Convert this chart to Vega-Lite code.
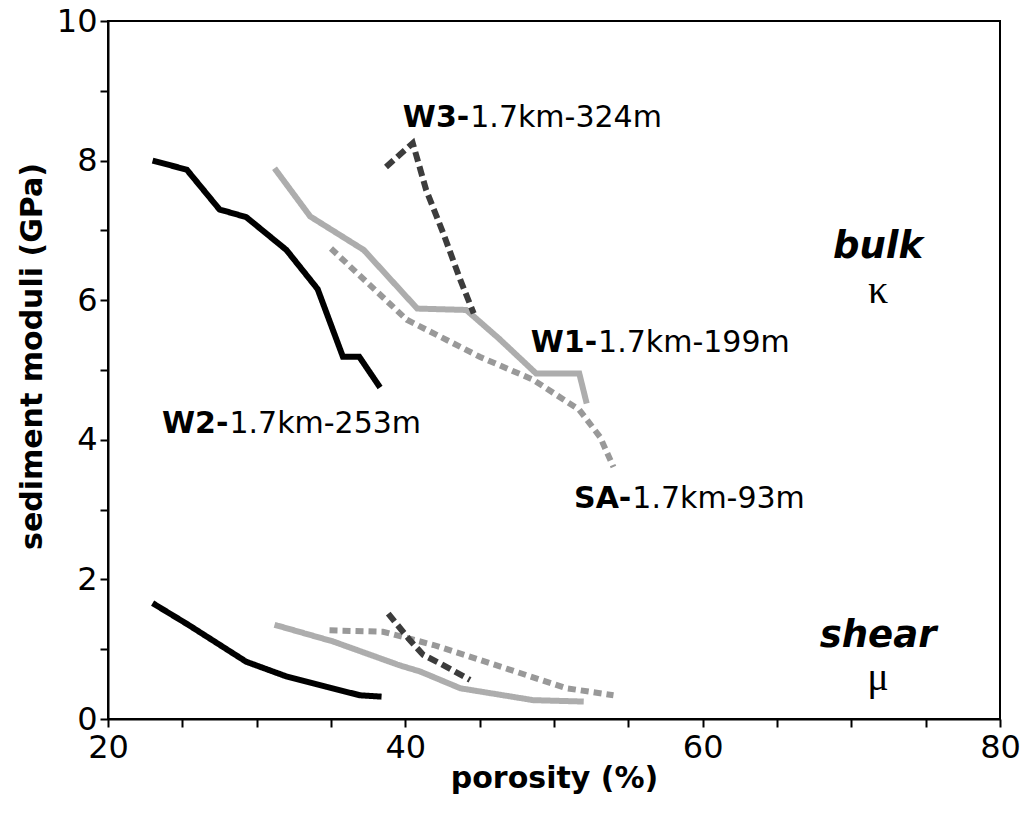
{
  "$schema": "https://vega.github.io/schema/vega-lite/v6.json",
  "width": 892,
  "height": 698,
  "autosize": {"type": "none"},
  "padding": {"left": 108, "top": 21, "right": 23, "bottom": 96},
  "background": "white",
  "config": {
    "view": {"stroke": "black", "strokeWidth": 2},
    "font": "DejaVu Sans"
  },
  "datasets": {
    "curves": [
      {"well": "W2", "modulus": "bulk", "porosity": 23.0, "moduli": 8.0},
      {"well": "W2", "modulus": "bulk", "porosity": 25.3, "moduli": 7.87},
      {"well": "W2", "modulus": "bulk", "porosity": 27.5, "moduli": 7.3},
      {"well": "W2", "modulus": "bulk", "porosity": 29.3, "moduli": 7.19},
      {"well": "W2", "modulus": "bulk", "porosity": 32.0, "moduli": 6.72},
      {"well": "W2", "modulus": "bulk", "porosity": 34.1, "moduli": 6.16},
      {"well": "W2", "modulus": "bulk", "porosity": 35.8, "moduli": 5.19},
      {"well": "W2", "modulus": "bulk", "porosity": 36.9, "moduli": 5.19},
      {"well": "W2", "modulus": "bulk", "porosity": 38.3, "moduli": 4.75},
      {"well": "W1", "modulus": "bulk", "porosity": 31.2, "moduli": 7.89},
      {"well": "W1", "modulus": "bulk", "porosity": 33.6, "moduli": 7.2},
      {"well": "W1", "modulus": "bulk", "porosity": 37.2, "moduli": 6.72},
      {"well": "W1", "modulus": "bulk", "porosity": 40.8, "moduli": 5.88},
      {"well": "W1", "modulus": "bulk", "porosity": 44.1, "moduli": 5.86},
      {"well": "W1", "modulus": "bulk", "porosity": 46.3, "moduli": 5.45},
      {"well": "W1", "modulus": "bulk", "porosity": 48.8, "moduli": 4.95},
      {"well": "W1", "modulus": "bulk", "porosity": 51.7, "moduli": 4.95},
      {"well": "W1", "modulus": "bulk", "porosity": 52.2, "moduli": 4.52},
      {"well": "SA", "modulus": "bulk", "porosity": 35.0, "moduli": 6.74},
      {"well": "SA", "modulus": "bulk", "porosity": 40.1, "moduli": 5.72},
      {"well": "SA", "modulus": "bulk", "porosity": 45.0, "moduli": 5.19},
      {"well": "SA", "modulus": "bulk", "porosity": 48.6, "moduli": 4.86},
      {"well": "SA", "modulus": "bulk", "porosity": 51.7, "moduli": 4.43},
      {"well": "SA", "modulus": "bulk", "porosity": 53.1, "moduli": 4.04},
      {"well": "SA", "modulus": "bulk", "porosity": 54.0, "moduli": 3.61},
      {"well": "W3", "modulus": "bulk", "porosity": 38.7, "moduli": 7.91},
      {"well": "W3", "modulus": "bulk", "porosity": 40.5, "moduli": 8.25},
      {"well": "W3", "modulus": "bulk", "porosity": 41.4, "moduli": 7.58},
      {"well": "W3", "modulus": "bulk", "porosity": 42.55, "moduli": 6.96},
      {"well": "W3", "modulus": "bulk", "porosity": 43.7, "moduli": 6.29},
      {"well": "W3", "modulus": "bulk", "porosity": 44.6, "moduli": 5.81},
      {"well": "W2", "modulus": "shear", "porosity": 23.0, "moduli": 1.66},
      {"well": "W2", "modulus": "shear", "porosity": 25.4, "moduli": 1.35},
      {"well": "W2", "modulus": "shear", "porosity": 29.3, "moduli": 0.82},
      {"well": "W2", "modulus": "shear", "porosity": 32.0, "moduli": 0.61},
      {"well": "W2", "modulus": "shear", "porosity": 34.7, "moduli": 0.46},
      {"well": "W2", "modulus": "shear", "porosity": 36.95, "moduli": 0.34},
      {"well": "W2", "modulus": "shear", "porosity": 38.4, "moduli": 0.32},
      {"well": "W1", "modulus": "shear", "porosity": 31.2, "moduli": 1.35},
      {"well": "W1", "modulus": "shear", "porosity": 35.15, "moduli": 1.11},
      {"well": "W1", "modulus": "shear", "porosity": 39.6, "moduli": 0.77},
      {"well": "W1", "modulus": "shear", "porosity": 41.0, "moduli": 0.68},
      {"well": "W1", "modulus": "shear", "porosity": 43.7, "moduli": 0.44},
      {"well": "W1", "modulus": "shear", "porosity": 48.6, "moduli": 0.27},
      {"well": "W1", "modulus": "shear", "porosity": 52.0, "moduli": 0.25},
      {"well": "SA", "modulus": "shear", "porosity": 34.9, "moduli": 1.27},
      {"well": "SA", "modulus": "shear", "porosity": 38.5, "moduli": 1.25},
      {"well": "SA", "modulus": "shear", "porosity": 41.9, "moduli": 1.06},
      {"well": "SA", "modulus": "shear", "porosity": 46.4, "moduli": 0.75},
      {"well": "SA", "modulus": "shear", "porosity": 50.85, "moduli": 0.44},
      {"well": "SA", "modulus": "shear", "porosity": 54.0, "moduli": 0.34},
      {"well": "W3", "modulus": "shear", "porosity": 38.85, "moduli": 1.51},
      {"well": "W3", "modulus": "shear", "porosity": 40.3, "moduli": 1.13},
      {"well": "W3", "modulus": "shear", "porosity": 41.2, "moduli": 0.92},
      {"well": "W3", "modulus": "shear", "porosity": 42.3, "moduli": 0.8},
      {"well": "W3", "modulus": "shear", "porosity": 44.35, "moduli": 0.56}
    ],
    "wellLabels": [
      {"well": "W3", "porosity": 44.3, "moduli": 8.48, "bold": "W3-", "rest": "1.7km-324m"},
      {"well": "W1", "porosity": 52.9, "moduli": 5.26, "bold": "W1-", "rest": "1.7km-199m"},
      {"well": "W2", "porosity": 28.1, "moduli": 4.1, "bold": "W2-", "rest": "1.7km-253m"},
      {"well": "SA", "porosity": 55.2, "moduli": 3.02, "bold": "SA-", "rest": "1.7km-93m"}
    ],
    "moduliLabels": [
      {"porosity": 71.8, "moduli": 6.6, "name": "bulk", "symbol": "κ", "symbolY": 5.96},
      {"porosity": 71.8, "moduli": 1.03, "name": "shear", "symbol": "μ", "symbolY": 0.42}
    ]
  },
  "layer": [
    {
      "data": {"name": "curves"},
      "mark": {"type": "line", "strokeCap": "butt", "strokeJoin": "miter"},
      "encoding": {
        "x": {
          "field": "porosity", "type": "quantitative",
          "scale": {"domain": [20, 80], "nice": false, "zero": false},
          "axis": {
            "title": "porosity (%)",
            "values": [20, 25, 30, 35, 40, 45, 50, 55, 60, 65, 70, 75, 80],
            "format": "d",
            "labelExpr": "datum.value % 20 === 0 ? datum.label : ''",
            "grid": false,
            "domainColor": "black", "domainWidth": 2,
            "tickColor": "black", "tickWidth": 2, "tickSize": 8,
            "labelFont": "DejaVu Sans", "labelFontSize": 32, "labelColor": "black",
            "labelPadding": 5, "labelOverlap": false, "labelFlush": false, "labelBound": false,
            "titleFont": "DejaVu Sans", "titleFontSize": 30, "titleFontWeight": "bold",
            "titleColor": "black", "titlePadding": 0
          }
        },
        "y": {
          "field": "moduli", "type": "quantitative",
          "scale": {"domain": [0, 10], "nice": false},
          "axis": {
            "title": "sediment moduli (GPa)",
            "values": [0, 1, 2, 3, 4, 5, 6, 7, 8, 9, 10],
            "format": "d",
            "labelExpr": "datum.value % 2 === 0 ? datum.label : ''",
            "grid": false,
            "domainColor": "black", "domainWidth": 2,
            "tickColor": "black", "tickWidth": 2, "tickSize": 8,
            "labelFont": "DejaVu Sans", "labelFontSize": 32, "labelColor": "black",
            "labelPadding": 3, "labelOverlap": false, "labelFlush": false, "labelBound": false,
            "titleFont": "DejaVu Sans", "titleFontSize": 30, "titleFontWeight": "bold",
            "titleColor": "black", "titlePadding": 9, "titleY": 335
          }
        },
        "color": {
          "field": "well", "type": "nominal",
          "scale": {"domain": ["W2", "W1", "SA", "W3"], "range": ["#000000", "#adadad", "#999999", "#3c3c3c"]},
          "legend": null
        },
        "strokeDash": {
          "field": "well", "type": "nominal",
          "scale": {"domain": ["W2", "W1", "SA", "W3"], "range": [[1, 0], [1, 0], [8, 5], [10, 5]]},
          "legend": null
        },
        "strokeWidth": {
          "field": "well", "type": "nominal",
          "scale": {"domain": ["W2", "W1", "SA", "W3"], "range": [6, 6, 5, 6]},
          "legend": null
        },
        "detail": {"field": "modulus", "type": "nominal"}
      }
    },
    {
      "data": {"name": "wellLabels"},
      "mark": {"type": "text", "align": "right", "baseline": "alphabetic", "font": "DejaVu Sans", "fontWeight": "bold", "fontSize": 30, "color": "black"},
      "encoding": {
        "x": {"field": "porosity", "type": "quantitative"},
        "y": {"field": "moduli", "type": "quantitative"},
        "text": {"field": "bold"}
      }
    },
    {
      "data": {"name": "wellLabels"},
      "mark": {"type": "text", "align": "left", "baseline": "alphabetic", "font": "DejaVu Sans", "fontSize": 30, "color": "black", "dx": 1},
      "encoding": {
        "x": {"field": "porosity", "type": "quantitative"},
        "y": {"field": "moduli", "type": "quantitative"},
        "text": {"field": "rest"}
      }
    },
    {
      "data": {"name": "moduliLabels"},
      "mark": {"type": "text", "align": "center", "baseline": "alphabetic", "font": "DejaVu Sans", "fontWeight": "bold", "fontStyle": "italic", "fontSize": 37, "color": "black"},
      "encoding": {
        "x": {"field": "porosity", "type": "quantitative"},
        "y": {"field": "moduli", "type": "quantitative"},
        "text": {"field": "name"}
      }
    },
    {
      "data": {"name": "moduliLabels"},
      "mark": {"type": "text", "align": "center", "baseline": "alphabetic", "font": "Liberation Serif", "fontSize": 40, "color": "black"},
      "encoding": {
        "x": {"field": "porosity", "type": "quantitative"},
        "y": {"field": "symbolY", "type": "quantitative"},
        "text": {"field": "symbol"}
      }
    }
  ]
}
